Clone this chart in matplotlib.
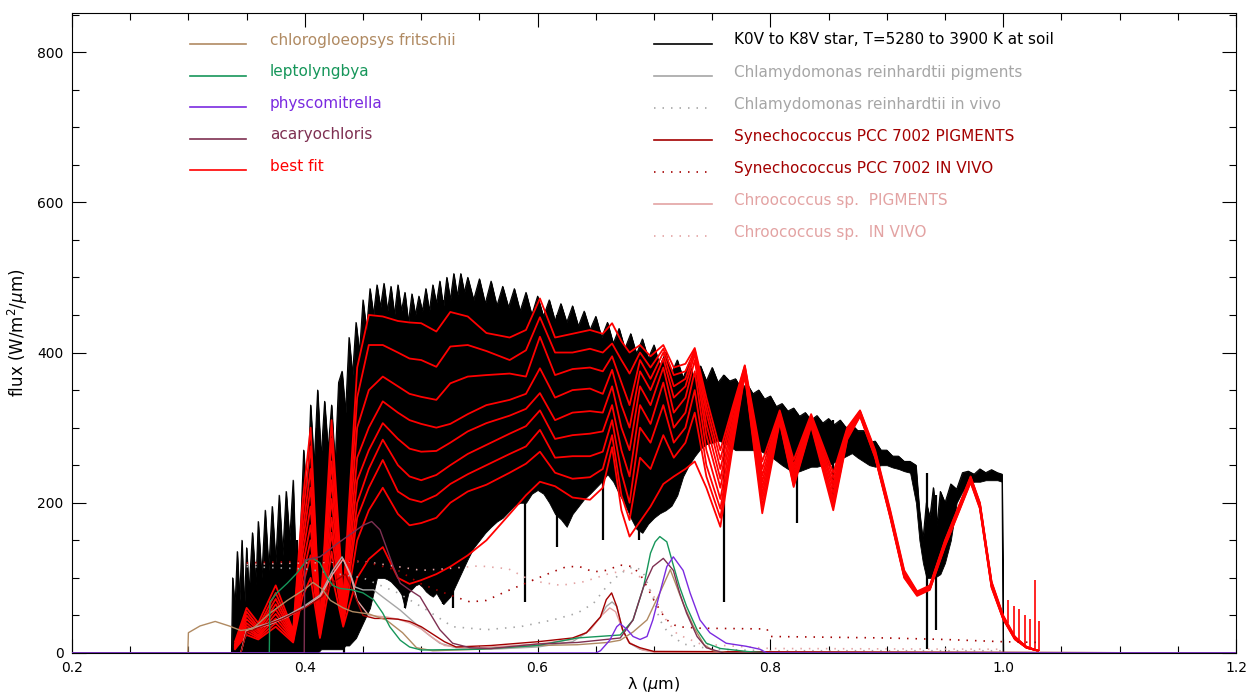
import numpy as np
import matplotlib
matplotlib.use("Agg")
import matplotlib.pyplot as plt
from matplotlib.ticker import MultipleLocator, FuncFormatter

# ---------------------------------------------------------------- star spectra
# envelope of the K0V..K8V surface spectra (upper / lower flux, W/m2/um)
star_wl = [0.3370, 0.3380, 0.3400, 0.3420, 0.3440, 0.3460, 0.3480, 0.3500, 0.3520, 0.3550,
           0.3580, 0.3600, 0.3630, 0.3660, 0.3690, 0.3720, 0.3750, 0.3780, 0.3810, 0.3840,
           0.3870, 0.3900, 0.3930, 0.3960, 0.3990, 0.4020, 0.4050, 0.4080, 0.4110, 0.4140,
           0.4170, 0.4200, 0.4230, 0.4260, 0.4290, 0.4320, 0.4350, 0.4380, 0.4410, 0.4440,
           0.4470, 0.4500, 0.4530, 0.4560, 0.4590, 0.4620, 0.4650, 0.4680, 0.4710, 0.4740,
           0.4770, 0.4800, 0.4830, 0.4860, 0.4890, 0.4920, 0.4950, 0.4980, 0.5010, 0.5040,
           0.5070, 0.5100, 0.5130, 0.5160, 0.5190, 0.5220, 0.5250, 0.5280, 0.5310, 0.5340,
           0.5370, 0.5400, 0.5450, 0.5500, 0.5550, 0.5600, 0.5650, 0.5700, 0.5750, 0.5800,
           0.5850, 0.5900, 0.5950, 0.6000, 0.6050, 0.6100, 0.6150, 0.6200, 0.6250, 0.6300,
           0.6350, 0.6400, 0.6450, 0.6500, 0.6550, 0.6600, 0.6650, 0.6700, 0.6750, 0.6800,
           0.6850, 0.6900, 0.6950, 0.7000, 0.7050, 0.7100, 0.7150, 0.7200, 0.7250, 0.7300,
           0.7350, 0.7400, 0.7450, 0.7500, 0.7550, 0.7600, 0.7650, 0.7700, 0.7750, 0.7800,
           0.7850, 0.7900, 0.7950, 0.8000, 0.8050, 0.8100, 0.8150, 0.8200, 0.8250, 0.8300,
           0.8350, 0.8400, 0.8450, 0.8500, 0.8550, 0.8600, 0.8650, 0.8700, 0.8750, 0.8800,
           0.8850, 0.8900, 0.8950, 0.9000, 0.9050, 0.9100, 0.9150, 0.9200, 0.9250, 0.9280,
           0.9310, 0.9340, 0.9370, 0.9400, 0.9430, 0.9460, 0.9500, 0.9550, 0.9600, 0.9650,
           0.9700, 0.9750, 0.9800, 0.9850, 0.9900, 0.9950, 0.9990, 1.0000]
star_hi = [0, 100, 60, 135, 70, 150, 60, 140, 80, 160,
           90, 175, 100, 190, 110, 195, 120, 210, 130, 215,
           150, 230, 80, 150, 270, 200, 330, 250, 350, 260,
           335, 270, 330, 250, 360, 375, 320, 420, 370, 440,
           400, 470, 430, 485, 450, 490, 460, 492, 455, 488,
           450, 490, 455, 480, 440, 478, 450, 475, 455, 485,
           455, 490, 465, 495, 460, 500, 470, 505, 475, 505,
           480, 500, 470, 498, 465, 495, 462, 488, 460, 485,
           455, 480, 450, 475, 448, 470, 442, 465, 440, 462,
           435, 455, 430, 448, 420, 440, 412, 432, 405, 425,
           398, 418, 392, 410, 382, 400, 372, 390, 366, 386,
           364, 382, 362, 380, 360, 370, 362, 365, 352, 358,
           345, 350, 338, 342, 328, 332, 322, 326, 315, 320,
           310, 316, 306, 312, 304, 310, 300, 304, 296, 296,
           280, 282, 270, 270, 262, 262, 255, 255, 250, 190,
           150, 200, 180, 220, 170, 215, 200, 225, 218, 240,
           242, 238, 245, 240, 244, 240, 238, 0]
star_lo = [0, 0, 0, 0, 0, 0, 0, 0, 0, 0,
           0, 0, 0, 0, 0, 0, 0, 0, 0, 0,
           0, 0, 0, 0, 0, 0, 0, 0, 0, 5,
           5, 5, 5, 5, 5, 5, 10, 10, 15, 20,
           30, 40, 50, 60, 80, 100, 100, 100, 98, 95,
           90, 85, 78, 60, 80, 85, 90, 92, 88, 82,
           78, 75, 80, 72, 65, 70, 75, 85, 95, 105,
           115, 125, 140, 150, 160, 168, 175, 180, 188, 196,
           200, 200, 212, 217, 212, 200, 185, 178, 168, 185,
           195, 205, 212, 220, 228, 238, 228, 212, 198, 180,
           165, 160, 172, 180, 186, 190, 196, 210, 235, 250,
           262, 272, 278, 280, 283, 280, 275, 270, 270, 270,
           270, 270, 266, 262, 256, 250, 245, 240, 242, 245,
           248, 248, 250, 250, 254, 258, 262, 266, 260, 255,
           250, 248, 250, 250, 247, 245, 242, 240, 200, 150,
           120, 100, 100, 100, 102, 105, 120, 150, 200, 215,
           225, 228, 228, 230, 230, 230, 228, 0]

# strongest absorption lines of the stellar spectra
line_wl = [0.3934, 0.3968, 0.4102, 0.4341, 0.4861, 0.5184, 0.5270, 0.5890,
           0.6163, 0.6563, 0.6870, 0.7605, 0.8227, 0.8542, 0.9345, 0.9425]
line_lo = [0, 0, 0, 0, 60, 65, 60, 68, 141, 150, 150, 68, 173, 194, 5, 31]
line_hi = [150, 150, 300, 340, 450, 470, 480, 470, 450, 420, 400, 370, 320, 310, 240, 210]

# ---------------------------------------------------------------- best fits
fit_wl = [0.340, 0.350, 0.360, 0.375, 0.390, 0.398, 0.405, 0.413, 0.423, 0.433,
          0.445, 0.455, 0.467, 0.480, 0.490, 0.500, 0.513, 0.525, 0.540, 0.556,
          0.576, 0.590, 0.602, 0.615, 0.630, 0.645, 0.656, 0.664, 0.672, 0.679,
          0.688, 0.697, 0.708, 0.717, 0.727, 0.735, 0.745, 0.757, 0.768, 0.778,
          0.793, 0.808, 0.820, 0.835, 0.854, 0.866, 0.877, 0.890, 0.903, 0.915,
          0.926, 0.937, 0.950, 0.963, 0.972, 0.980, 0.990, 1.000, 1.010, 1.020, 1.030]
fit_k0 = [15, 60, 40, 90, 30, 200, 300, 40, 310, 70, 380, 450, 448, 442, 440, 439, 428, 454, 448, 426,
          420, 430, 472, 420, 425, 430, 425, 439, 415, 400, 410, 395, 410, 380, 385, 406, 340, 270, 330, 383,
          255, 323, 257, 318, 240, 300, 323, 270, 190, 110, 82, 90, 150, 200, 235, 200, 95, 50, 22, 8, 3]
fit_k1 = [12, 55, 35, 80, 28, 180, 275, 38, 285, 65, 340, 410, 410, 400, 392, 390, 381, 408, 410, 402,
          390, 403, 447, 400, 400, 405, 400, 412, 390, 372, 400, 380, 405, 370, 375, 404, 330, 258, 325, 382,
          245, 321, 250, 316, 233, 298, 322, 268, 188, 108, 81, 89, 149, 199, 234, 199, 94, 49, 21, 8, 3]
fit_k2 = [11, 50, 32, 72, 26, 160, 245, 35, 255, 60, 300, 350, 368, 355, 345, 341, 337, 359, 368, 370,
          372, 368, 421, 370, 378, 380, 375, 395, 360, 330, 390, 365, 400, 355, 365, 402, 320, 245, 320, 380,
          236, 319, 245, 314, 226, 296, 321, 266, 186, 106, 80, 88, 148, 198, 233, 198, 93, 48, 21, 8, 3]
fit_k3 = [10, 45, 30, 65, 24, 145, 220, 32, 230, 55, 260, 300, 335, 320, 310, 305, 300, 305, 318, 330,
          337, 345, 379, 340, 350, 352, 345, 377, 330, 300, 375, 350, 392, 340, 355, 398, 305, 232, 312, 378,
          228, 317, 240, 312, 220, 294, 320, 265, 185, 105, 80, 88, 147, 197, 232, 197, 92, 48, 20, 8, 3]
fit_k4 = [9, 40, 27, 58, 22, 130, 195, 30, 205, 50, 230, 270, 306, 285, 272, 268, 269, 280, 295, 306,
          316, 325, 346, 310, 320, 322, 320, 355, 300, 270, 355, 330, 380, 320, 340, 390, 290, 220, 305, 376,
          220, 315, 235, 310, 213, 292, 319, 264, 184, 104, 79, 87, 146, 196, 231, 196, 91, 47, 20, 8, 3]
fit_k5 = [8, 36, 24, 52, 20, 115, 170, 27, 180, 46, 200, 245, 284, 250, 235, 230, 237, 250, 265, 277,
          292, 302, 323, 285, 290, 292, 295, 330, 270, 235, 330, 305, 360, 300, 320, 375, 270, 205, 298, 374,
          212, 313, 230, 308, 206, 290, 318, 263, 183, 103, 78, 86, 145, 195, 230, 195, 90, 46, 19, 7, 3]
fit_k6 = [7, 32, 22, 46, 18, 100, 150, 24, 160, 42, 180, 220, 257, 215, 205, 201, 210, 225, 238, 250,
          265, 275, 297, 260, 262, 262, 268, 310, 240, 200, 300, 280, 330, 280, 300, 350, 250, 192, 290, 372,
          204, 311, 226, 306, 200, 288, 317, 262, 182, 102, 78, 86, 144, 194, 229, 194, 89, 46, 19, 7, 3]
fit_k7 = [6, 28, 20, 40, 16, 88, 130, 22, 135, 38, 150, 190, 220, 185, 170, 173, 180, 200, 215, 224,
          240, 252, 268, 240, 232, 234, 245, 290, 210, 177, 260, 245, 290, 260, 280, 320, 235, 180, 284, 371,
          195, 309, 223, 304, 195, 286, 316, 261, 181, 101, 77, 85, 143, 193, 228, 193, 88, 45, 19, 7, 3]
fit_k8 = [5, 24, 18, 35, 14, 75, 100, 20, 105, 35, 100, 125, 141, 100, 92, 97, 105, 115, 130, 150,
          185, 210, 228, 222, 207, 204, 220, 274, 190, 155, 175, 195, 225, 235, 245, 255, 220, 168, 278, 370,
          186, 307, 221, 302, 190, 284, 315, 260, 180, 100, 76, 84, 142, 192, 227, 192, 87, 45, 18, 7, 3]

# noisy spikes of the fitted spectra in the far red tail
fit_spike_wl = [1.004, 1.009, 1.014, 1.019, 1.023, 1.027, 1.031]
fit_spike_lo = [40, 25, 15, 10, 5, 3, 2]
fit_spike_hi = [70, 62, 58, 50, 45, 97, 42]

# ---------------------------------------------------------------- pigment spectra
chloro_wl = [0.2, 0.2995, 0.300, 0.310, 0.323, 0.335, 0.345, 0.355, 0.370, 0.385, 0.400, 0.407,
             0.415, 0.422, 0.433, 0.441, 0.455, 0.470, 0.484, 0.496, 0.510, 0.550, 0.600, 0.634,
             0.660, 0.671, 0.682, 0.694, 0.705, 0.714, 0.725, 0.734, 0.743, 0.751, 0.765, 1.2]
chloro_f = [0, 0, 27, 36, 42, 36, 30, 32, 53, 70, 85, 94,
            85, 70, 60, 55, 52, 44, 27, 7, 3, 5, 10, 11,
            14, 17, 28, 44, 80, 111, 66, 35, 11, 3, 0, 0]

lepto_wl = [0.2, 0.3695, 0.370, 0.376, 0.385, 0.393, 0.402, 0.407, 0.413, 0.419, 0.424, 0.430,
            0.441, 0.450, 0.459, 0.467, 0.473, 0.482, 0.490, 0.500, 0.550, 0.600, 0.634, 0.671,
            0.682, 0.691, 0.697, 0.701, 0.705, 0.711, 0.716, 0.722, 0.728, 0.737, 0.745, 0.757,
            0.780, 0.800, 1.2]
lepto_f = [0, 0, 68, 80, 93, 106, 124, 126, 120, 101, 90, 86,
           84, 80, 71, 53, 35, 17, 8, 4, 5, 10, 20, 24,
           44, 88, 133, 148, 155, 148, 120, 88, 62, 31, 13, 6,
           2, 0, 0]

physco_wl = [0.2, 0.650, 0.654, 0.662, 0.668, 0.671, 0.677, 0.682, 0.688, 0.694, 0.699, 0.705,
             0.711, 0.7166, 0.725, 0.731, 0.7395, 0.748, 0.762, 0.779, 0.791, 0.797, 1.2]
physco_f = [0, 0, 3, 17, 35, 39, 31, 22, 18, 22, 44, 80,
            115, 128, 110, 80, 44, 27, 13, 9, 5, 0, 0]

acaryo_wl = [0.2, 0.3995, 0.400, 0.413, 0.424, 0.430, 0.441, 0.450, 0.4575, 0.4646, 0.470, 0.476,
             0.482, 0.490, 0.499, 0.5075, 0.516, 0.527, 0.542, 0.560, 0.600, 0.634, 0.671, 0.682,
             0.691, 0.699, 0.708, 0.7166, 0.722, 0.728, 0.737, 0.745, 0.760, 1.2]
acaryo_f = [0, 0, 124, 128, 141, 148, 160, 170, 175, 164, 141, 115,
            93, 84, 75, 53, 31, 13, 7, 6, 12, 14, 20, 44,
            88, 115, 126, 110, 80, 53, 22, 7, 0, 0]

chlamy_pig_wl = [0.2, 0.345, 0.350, 0.370, 0.385, 0.399, 0.413, 0.424, 0.432, 0.439, 0.443, 0.450,
                 0.459, 0.470, 0.482, 0.493, 0.505, 0.516, 0.530, 0.560, 0.600, 0.630, 0.642, 0.654,
                 0.659, 0.664, 0.668, 0.673, 0.679, 0.688, 0.700, 1.2]
chlamy_pig_f = [0, 0, 31, 40, 50, 62, 77, 110, 128, 106, 88, 84,
                84, 71, 57, 42, 26, 13, 7, 5, 8, 15, 27, 48,
                62, 68, 62, 31, 13, 5, 2, 0]

syne_pig_wl = [0.2, 0.345, 0.350, 0.380, 0.400, 0.415, 0.425, 0.435, 0.442, 0.450, 0.460, 0.470,
               0.480, 0.490, 0.500, 0.510, 0.520, 0.530, 0.560, 0.600, 0.630, 0.642, 0.654, 0.659,
               0.6636, 0.668, 0.673, 0.679, 0.688, 0.700, 1.2]
syne_pig_f = [0, 0, 28, 45, 60, 75, 95, 105, 80, 50, 46, 46,
              45, 42, 35, 25, 15, 8, 10, 15, 20, 27, 48, 71,
              80, 62, 31, 13, 7, 2, 0]

chroo_pig_wl = [0.2, 0.345, 0.350, 0.370, 0.385, 0.399, 0.413, 0.424, 0.433, 0.440, 0.445, 0.455,
                0.470, 0.480, 0.490, 0.500, 0.510, 0.520, 0.540, 0.600, 0.630, 0.645, 0.655, 0.662,
                0.667, 0.672, 0.678, 0.690, 0.700, 1.2]
chroo_pig_f = [0, 0, 30, 38, 48, 60, 75, 105, 125, 100, 70, 50,
               48, 45, 40, 32, 20, 10, 6, 12, 18, 30, 50, 60,
               55, 35, 15, 4, 1, 0]

chlamy_viv_wl = [0.350, 0.400, 0.450, 0.480, 0.505, 0.527, 0.556, 0.585, 0.613, 0.634, 0.648, 0.659,
                 0.671, 0.682, 0.690, 0.699, 0.705, 0.712, 0.725, 0.750, 0.800, 1.000]
chlamy_viv_f = [115, 112, 100, 80, 57, 35, 31, 35, 44, 53, 66, 88,
                106, 115, 110, 75, 44, 27, 12, 5, 3, 3]

syne_viv_wl = [0.350, 0.400, 0.450, 0.480, 0.500, 0.525, 0.542, 0.556, 0.573, 0.593, 0.613, 0.625,
               0.636, 0.648, 0.659, 0.671, 0.682, 0.690, 0.700, 0.710, 0.720, 0.740, 0.797, 0.800,
               0.900, 0.950, 1.000, 1.033]
syne_viv_f = [120, 122, 122, 110, 92, 77, 68, 70, 82, 95, 108, 115,
              115, 108, 110, 117, 115, 100, 70, 45, 35, 33, 32, 22,
              20, 18, 15, 14]

chroo_viv_wl = [0.350, 0.400, 0.450, 0.480, 0.500, 0.520, 0.550, 0.575, 0.590, 0.600, 0.620, 0.640,
                0.660, 0.675, 0.690, 0.700, 0.710, 0.720, 0.740, 0.800, 1.000]
chroo_viv_f = [118, 120, 122, 115, 110, 112, 116, 112, 100, 95, 90, 95,
               105, 110, 100, 75, 45, 25, 12, 6, 5]

# ---------------------------------------------------------------- styles
C_CHLORO = "#b08a62"
C_LEPTO = "#16965a"
C_PHYSCO = "#7a2ae0"
C_ACARYO = "#7e3052"
C_FIT = "#ff0000"
C_STAR = "#000000"
C_CHLAMY = "#a6a6a6"
C_SYNE = "#a30000"
C_CHROO = "#e3a3a3"
DOTS = (0, (0.9, 4.2))

plt.rcParams["font.family"] = ["DejaVu Sans"]
fig = plt.figure(figsize=(12.6, 7.0), dpi=100)
ax = fig.add_axes([72 / 1260, 1 - 653 / 700, 1164 / 1260, 640 / 700])

# stellar spectra
ax.fill_between(star_wl, star_lo, star_hi, color=C_STAR, lw=0.6, zorder=1)
ax.plot(star_wl, star_hi, color=C_STAR, lw=0.8, zorder=1)
ax.vlines(line_wl, line_lo, line_hi, color=C_STAR, lw=1.6, zorder=1)

# fitted spectra, one per star
for fit in (fit_k0, fit_k1, fit_k2, fit_k3, fit_k4, fit_k5, fit_k6, fit_k7, fit_k8):
    ax.plot(fit_wl, fit, color=C_FIT, lw=1.3, zorder=2)
ax.vlines(fit_spike_wl, fit_spike_lo, fit_spike_hi, color=C_FIT, lw=1.2, zorder=2)

# in vivo absorption (dotted)
ax.plot(chlamy_viv_wl, chlamy_viv_f, color=C_CHLAMY, lw=1.2, ls=DOTS, zorder=3)
ax.plot(chroo_viv_wl, chroo_viv_f, color=C_CHROO, lw=1.2, ls=DOTS, zorder=3)
ax.plot(syne_viv_wl, syne_viv_f, color=C_SYNE, lw=1.2, ls=DOTS, zorder=3)

# pigment absorption
ax.plot(chlamy_pig_wl, chlamy_pig_f, color=C_CHLAMY, lw=1.0, zorder=4)
ax.plot(chroo_pig_wl, chroo_pig_f, color=C_CHROO, lw=1.0, zorder=4)
ax.plot(syne_pig_wl, syne_pig_f, color=C_SYNE, lw=1.0, zorder=4)
ax.plot(chloro_wl, chloro_f, color=C_CHLORO, lw=1.0, zorder=4)
ax.plot(lepto_wl, lepto_f, color=C_LEPTO, lw=1.0, zorder=4)
ax.plot(acaryo_wl, acaryo_f, color=C_ACARYO, lw=1.0, zorder=4)
ax.plot(physco_wl, physco_f, color=C_PHYSCO, lw=1.0, zorder=4)

# axes
ax.set_xlim(0.2, 1.2)
ax.set_ylim(0, 852)
ax.xaxis.set_major_locator(MultipleLocator(0.2))
ax.xaxis.set_minor_locator(MultipleLocator(0.05))
ax.yaxis.set_major_locator(MultipleLocator(200))
ax.yaxis.set_minor_locator(MultipleLocator(50))
ax.tick_params(which="both", direction="in", top=True, right=True, width=0.8,
               labelsize=10, colors="black")
ax.tick_params(which="major", length=10, pad=6)
ax.tick_params(which="minor", length=5)
ax.xaxis.set_major_formatter(FuncFormatter(lambda v, p: f"{v:.1f}"))
ax.yaxis.set_major_formatter(FuncFormatter(lambda v, p: f"{v:.0f}"))
for s in ax.spines.values():
    s.set_linewidth(0.8)
ax.set_xlabel(r"λ ($\mu$m)", fontsize=11.5, labelpad=0)
ax.set_ylabel(r"flux (W/m$^2$/$\mu$m)", fontsize=12, labelpad=5)

# legend, drawn as two columns of line samples and coloured labels
left_items = [("chlorogloeopsys fritschii", C_CHLORO, "-"),
              ("leptolyngbya", C_LEPTO, "-"),
              ("physcomitrella", C_PHYSCO, "-"),
              ("acaryochloris", C_ACARYO, "-"),
              ("best fit", C_FIT, "-")]
right_items = [("K0V to K8V star, T=5280 to 3900 K at soil", C_STAR, "-"),
               ("Chlamydomonas reinhardtii pigments", C_CHLAMY, "-"),
               ("Chlamydomonas reinhardtii in vivo", C_CHLAMY, DOTS),
               ("Synechococcus PCC 7002 PIGMENTS", C_SYNE, "-"),
               ("Synechococcus PCC 7002 IN VIVO", C_SYNE, DOTS),
               ("Chroococcus sp.  PIGMENTS", C_CHROO, "-"),
               ("Chroococcus sp.  IN VIVO", C_CHROO, DOTS)]


def px_to_axes(x, y):
    return (x - 72) / 1164, (653 - y) / 640


def draw_column(items, x0, x1, xt, y0, dy, size):
    for i, (label, col, ls) in enumerate(items):
        yt = y0 + i * dy
        a0, b0 = px_to_axes(x0, yt + 4)
        a1, _ = px_to_axes(x1, yt + 4)
        ax.plot([a0, a1], [b0, b0], transform=ax.transAxes, color=col, lw=1.2, ls=ls,
                clip_on=False)
        at, bt = px_to_axes(xt, yt)
        ax.text(at, bt, label, transform=ax.transAxes, color=col, fontsize=size,
                va="center", ha="left")


draw_column(left_items, 190, 246, 270, 40, 31.6, 11)
draw_column(right_items, 654, 712, 734, 40, 32.0, 11)

fig.savefig("out.png", dpi=100)
